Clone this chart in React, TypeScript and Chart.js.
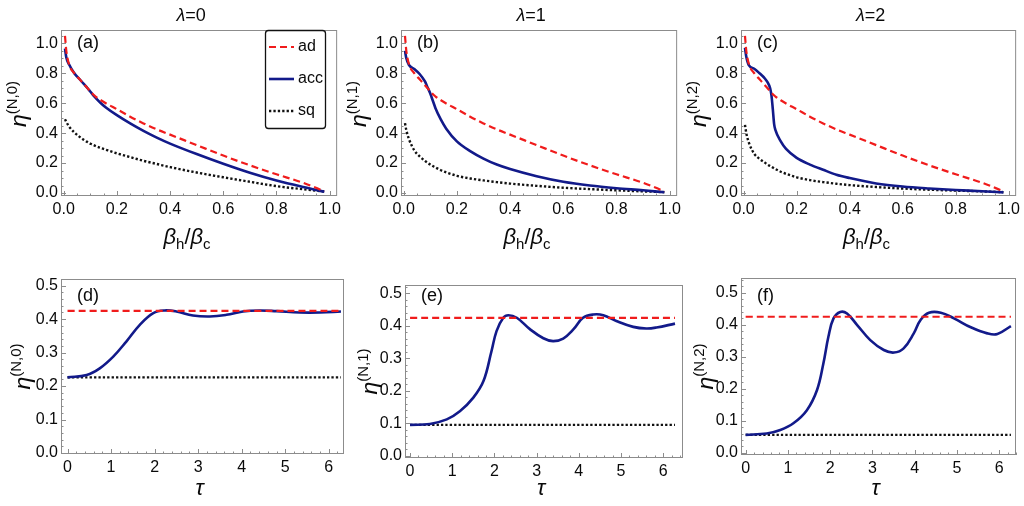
import React, { useEffect, useRef } from "react";
import { Chart, registerables } from "chart.js";

Chart.register(...registerables);

const SANS = "'Liberation Sans', Arial, sans-serif";
Chart.defaults.font.family = SANS;

// ---------- top row: efficiency vs beta_h / beta_c ----------
const betaRatio = [0.005, 0.01, 0.02, 0.04, 0.06, 0.08, 0.09, 0.1, 0.105, 0.11, 0.115, 0.12, 0.14, 0.16, 0.2, 0.25, 0.3, 0.35, 0.4, 0.5, 0.6, 0.7, 0.8, 0.9, 0.98];
const etaAd = [1.05, 0.95, 0.86, 0.8, 0.76, 0.72, 0.7, 0.68, 0.67, 0.66, 0.652, 0.644, 0.62, 0.598, 0.56, 0.51, 0.465, 0.425, 0.39, 0.32, 0.25, 0.185, 0.125, 0.068, 0.012];
const etaAccL0 = [0.965, 0.905, 0.86, 0.8, 0.76, 0.72, 0.7, 0.678, 0.667, 0.656, 0.646, 0.636, 0.6, 0.57, 0.52, 0.465, 0.415, 0.37, 0.33, 0.26, 0.195, 0.135, 0.083, 0.04, 0.009];
const etaSqL0 = [0.493, 0.475, 0.445, 0.405, 0.375, 0.35, 0.34, 0.33, 0.326, 0.322, 0.318, 0.314, 0.3, 0.288, 0.265, 0.24, 0.215, 0.194, 0.173, 0.137, 0.105, 0.075, 0.046, 0.025, 0.01];
const etaAccL1 = [0.95, 0.9, 0.855, 0.828, 0.795, 0.745, 0.705, 0.665, 0.64, 0.615, 0.59, 0.565, 0.49, 0.43, 0.345, 0.28, 0.23, 0.19, 0.16, 0.112, 0.075, 0.05, 0.032, 0.018, 0.005];
const etaSqL1 = [0.467, 0.42, 0.36, 0.285, 0.245, 0.215, 0.202, 0.19, 0.185, 0.18, 0.175, 0.17, 0.152, 0.138, 0.115, 0.097, 0.084, 0.073, 0.063, 0.048, 0.035, 0.026, 0.018, 0.011, 0.006];
const etaAccL2 = [0.97, 0.91, 0.852, 0.83, 0.8, 0.765, 0.74, 0.7, 0.65, 0.56, 0.46, 0.42, 0.345, 0.295, 0.235, 0.19, 0.155, 0.122, 0.1, 0.064, 0.043, 0.03, 0.02, 0.012, 0.004];
const etaSqL2 = [0.455, 0.4, 0.335, 0.262, 0.228, 0.203, 0.19, 0.18, 0.175, 0.17, 0.165, 0.16, 0.142, 0.128, 0.105, 0.086, 0.073, 0.062, 0.053, 0.04, 0.03, 0.022, 0.016, 0.011, 0.006];

// ---------- bottom row: efficiency vs tau ----------
const tauSpan = [0, 6.28];
const etaAdLimit = 0.425;
const etaSqLimitL0 = 0.226;
const etaSqLimitL1 = 0.095;
const etaSqLimitL2 = 0.056;

const tauL0 = [0, 0.44, 0.74, 1.05, 1.35, 1.66, 1.97, 2.23, 2.5, 2.88, 3.27, 3.65, 4.03, 4.41, 4.8, 5.33, 5.8, 6.28];
const etaTauL0 = [0.226, 0.233, 0.253, 0.288, 0.333, 0.383, 0.418, 0.426, 0.423, 0.411, 0.408, 0.413, 0.423, 0.426, 0.424, 0.42, 0.42, 0.423];
const tauL1 = [0, 0.47, 0.87, 1.18, 1.5, 1.74, 1.93, 2.05, 2.21, 2.33, 2.53, 2.84, 3.16, 3.39, 3.63, 3.87, 4.1, 4.34, 4.58, 4.89, 5.29, 5.6, 5.84, 6.28];
const etaTauL1 = [0.095, 0.098, 0.112, 0.137, 0.179, 0.23, 0.322, 0.384, 0.425, 0.433, 0.425, 0.39, 0.362, 0.353, 0.361, 0.389, 0.425, 0.435, 0.433, 0.415, 0.397, 0.392, 0.395, 0.407];
const tauL2 = [0, 0.5, 0.82, 1.13, 1.45, 1.69, 1.84, 1.96, 2.08, 2.24, 2.4, 2.64, 2.95, 3.27, 3.51, 3.74, 3.98, 4.14, 4.34, 4.62, 4.93, 5.33, 5.72, 5.96, 6.28];
const etaTauL2 = [0.056, 0.06, 0.071, 0.092, 0.133, 0.196, 0.279, 0.363, 0.42, 0.44, 0.435, 0.399, 0.352, 0.321, 0.313, 0.326, 0.373, 0.415, 0.4375, 0.4375, 0.42, 0.392, 0.373, 0.371, 0.396];

// ---------- ticks ----------
const betaTicks = [0, 0.2, 0.4, 0.6, 0.8, 1.0];
const etaTopTicks = [0, 0.2, 0.4, 0.6, 0.8, 1.0];
const tauTicks = [0, 1, 2, 3, 4, 5, 6];
const etaBottomTicks = [0, 0.1, 0.2, 0.3, 0.4, 0.5];

const RED = "#f01c1c";
const BLUE = "#121a8a";
const BLACK = "#111111";
const FRAME = "#8c8c8c";
const TEXT = "#0a0a0a";

type Series = { label: string; xs: number[]; ys: number[]; color: string; dash: number[]; width: number };

const ad = (xs: number[], ys: number[]): Series => ({ label: "ad", xs, ys, color: RED, dash: [7, 4], width: 2.2 });
const acc = (xs: number[], ys: number[]): Series => ({ label: "acc", xs, ys, color: BLUE, dash: [], width: 2.6 });
const sq = (xs: number[], ys: number[]): Series => ({ label: "sq", xs, ys, color: BLACK, dash: [2.3, 2.1], width: 2.4 });

interface PanelSpec {
  id: string;
  tag: string;
  lambda?: string;
  sup: string;
  box: [number, number, number, number]; // left, top, right, bottom (page)
  frame: [number, number, number, number]; // left, top, right, bottom (page)
  xRange: [number, number];
  yRange: [number, number];
  xTicks: number[];
  yTicks: number[];
  xMinor: number;
  yMinor: number;
  xDigits: number;
  xTitle: "beta" | "tau";
  yTitleGap: number;
  yTitleShift: number;
  tagY: number;
  smooth: "monotone" | "default";
  legend?: boolean;
  series: Series[];
}

const topCommon = {
  xRange: [-0.01, 1.028] as [number, number],
  yRange: [-0.02, 1.089] as [number, number],
  xTicks: betaTicks,
  yTicks: etaTopTicks,
  xMinor: 0.05,
  yMinor: 0.05,
  xDigits: 1,
  xTitle: "beta" as const,
  yTitleGap: 35,
  yTitleShift: -9,
  tagY: 48,
  smooth: "monotone" as const,
};

const bottomCommon = {
  xTicks: tauTicks,
  yTicks: etaBottomTicks,
  xMinor: 0.2,
  yMinor: 0.02,
  xDigits: 0,
  xTitle: "tau" as const,
  yTitleShift: 0,
  tagY: 301,
  smooth: "default" as const,
};

const panels: PanelSpec[] = [
  {
    ...topCommon, id: "a", tag: "(a)", lambda: "0", sup: "(N,0)", legend: true,
    box: [0, 0, 345, 252], frame: [61, 30, 338, 196],
    series: [ad(betaRatio, etaAd), acc(betaRatio, etaAccL0), sq(betaRatio, etaSqL0)],
  },
  {
    ...topCommon, id: "b", tag: "(b)", lambda: "1", sup: "(N,1)",
    box: [340, 0, 685, 252], frame: [401, 30, 678, 196],
    series: [ad(betaRatio, etaAd), acc(betaRatio, etaAccL1), sq(betaRatio, etaSqL1)],
  },
  {
    ...topCommon, id: "c", tag: "(c)", lambda: "2", sup: "(N,2)",
    box: [680, 0, 1024, 252], frame: [741, 30, 1018, 196],
    series: [ad(betaRatio, etaAd), acc(betaRatio, etaAccL2), sq(betaRatio, etaSqL2)],
  },
  {
    ...bottomCommon, id: "d", tag: "(d)", sup: "(N,0)", yTitleGap: 31,
    box: [0, 253, 350, 506], frame: [61, 279, 344, 454],
    xRange: [-0.15, 6.35], yRange: [-0.003, 0.52],
    series: [
      ad(tauSpan, [etaAdLimit, etaAdLimit]),
      acc(tauL0, etaTauL0),
      sq(tauSpan, [etaSqLimitL0, etaSqLimitL0]),
    ],
  },
  {
    ...bottomCommon, id: "e", tag: "(e)", sup: "(N,1)", yTitleGap: 28,
    box: [344, 253, 690, 506], frame: [405, 285, 683, 458],
    xRange: [-0.12, 6.47], yRange: [-0.007, 0.526],
    series: [
      ad(tauSpan, [etaAdLimit, etaAdLimit]),
      acc(tauL1, etaTauL1),
      sq(tauSpan, [etaSqLimitL1, etaSqLimitL1]),
    ],
  },
  {
    ...bottomCommon, id: "f", tag: "(f)", sup: "(N,2)", yTitleGap: 28,
    box: [680, 253, 1024, 506], frame: [741, 278, 1016, 455],
    xRange: [-0.11, 6.4], yRange: [-0.007, 0.546],
    series: [
      ad(tauSpan, [etaAdLimit, etaAdLimit]),
      acc(tauL2, etaTauL2),
      sq(tauSpan, [etaSqLimitL2, etaSqLimitL2]),
    ],
  },
];

type Piece = { text: string; font: string; dy?: number };

// draws a run of text pieces starting at x (left), baseline y
function drawPieces(ctx: CanvasRenderingContext2D, pieces: Piece[], x: number, y: number, center = false) {
  let total = 0;
  for (const p of pieces) {
    ctx.font = p.font;
    total += ctx.measureText(p.text).width;
  }
  let cx = center ? x - total / 2 : x;
  ctx.textAlign = "left";
  ctx.textBaseline = "alphabetic";
  for (const p of pieces) {
    ctx.font = p.font;
    ctx.fillText(p.text, cx, y + (p.dy ?? 0));
    cx += ctx.measureText(p.text).width;
  }
}

function decorPlugin(spec: PanelSpec) {
  const ox = spec.box[0];
  const oy = spec.box[1];
  return {
    id: "decor" + spec.id,
    afterDraw(chart: Chart) {
      const { ctx, chartArea: a } = chart;
      const sx = chart.scales.x;
      const sy = chart.scales.y;
      ctx.save();

      // frame
      ctx.strokeStyle = FRAME;
      ctx.lineWidth = 1;
      ctx.setLineDash([]);
      ctx.strokeRect(a.left + 0.5, a.top + 0.5, a.right - a.left - 1, a.bottom - a.top - 1);

      // inner ticks on bottom and left
      const tickMarks = (scale: any, step: number, majors: number[], horizontal: boolean) => {
        const [lo, hi] = [scale.min, scale.max];
        const n0 = Math.ceil(lo / step - 1e-6);
        const n1 = Math.floor(hi / step + 1e-6);
        for (let n = n0; n <= n1; n++) {
          const v = n * step;
          const major = majors.some((m) => Math.abs(m - v) < 1e-6);
          const len = major ? 5 : 2.5;
          const p = Math.round(scale.getPixelForValue(v)) + 0.5;
          ctx.beginPath();
          if (horizontal) {
            ctx.moveTo(p, a.bottom);
            ctx.lineTo(p, a.bottom - len);
          } else {
            ctx.moveTo(a.left, p);
            ctx.lineTo(a.left + len, p);
          }
          ctx.stroke();
        }
      };
      tickMarks(sx, spec.xMinor, spec.xTicks, true);
      tickMarks(sy, spec.yMinor, spec.yTicks, false);

      ctx.fillStyle = TEXT;

      // panel tag
      drawPieces(ctx, [{ text: spec.tag, font: `18px ${SANS}` }], spec.frame[0] + 16 - ox, spec.tagY - oy);

      // lambda title
      if (spec.lambda !== undefined) {
        drawPieces(
          ctx,
          [
            { text: "λ", font: `italic 18px ${SANS}` },
            { text: "=" + spec.lambda, font: `18px ${SANS}` },
          ],
          (a.left + a.right) / 2 - 8,
          21 - oy,
          true
        );
      }

      // x title
      const xMid = (a.left + a.right) / 2;
      if (spec.xTitle === "beta") {
        drawPieces(
          ctx,
          [
            { text: "β", font: `italic 22px ${SANS}` },
            { text: "h", font: `15px ${SANS}`, dy: 5 },
            { text: "/", font: `22px ${SANS}` },
            { text: "β", font: `italic 22px ${SANS}` },
            { text: "c", font: `15px ${SANS}`, dy: 5 },
          ],
          xMid - 12,
          244 - oy,
          true
        );
      } else {
        drawPieces(ctx, [{ text: "τ", font: `italic 22px ${SANS}` }], xMid - 3, 495 - oy, true);
      }

      // y title (rotated)
      ctx.save();
      ctx.translate(a.left - spec.yTitleGap, (a.top + a.bottom) / 2 + spec.yTitleShift);
      ctx.rotate(-Math.PI / 2);
      drawPieces(
        ctx,
        [
          { text: "η", font: `italic 23px ${SANS}` },
          { text: spec.sup, font: `15px ${SANS}`, dy: -9 },
        ],
        0,
        0,
        true
      );
      ctx.restore();

      // legend box in panel (a)
      if (spec.legend) {
        const lx = 265 - ox;
        const ly = 30 - oy;
        const lw = 60;
        const lh = 98;
        ctx.fillStyle = "#ffffff";
        ctx.strokeStyle = "#111111";
        ctx.lineWidth = 1.3;
        ctx.beginPath();
        ctx.roundRect(lx + 0.5, ly + 0.5, lw, lh, 3);
        ctx.fill();
        ctx.stroke();
        const rows = [47, 79, 111];
        chart.data.datasets.forEach((ds: any, i: number) => {
          const ry = rows[i] - oy;
          ctx.strokeStyle = ds.borderColor;
          ctx.lineWidth = ds.borderWidth;
          ctx.setLineDash(ds.borderDash || []);
          ctx.beginPath();
          ctx.moveTo(lx + 4, ry);
          ctx.lineTo(lx + 29, ry);
          ctx.stroke();
          ctx.setLineDash([]);
          ctx.fillStyle = TEXT;
          ctx.font = `16px ${SANS}`;
          ctx.textBaseline = "middle";
          ctx.textAlign = "left";
          ctx.fillText(ds.label, lx + 33, ry);
        });
      }

      ctx.restore();
    },
  };
}

const Panel = ({ spec }: { spec: PanelSpec }) => {
  const canvasRef = useRef<HTMLCanvasElement | null>(null);

  useEffect(() => {
    const ctx = canvasRef.current?.getContext("2d");
    if (!ctx) return;
    const [bl, bt, br, bb] = spec.box;
    const [fl, ft, fr, fb] = spec.frame;
    const tickFont = { family: SANS, size: 16 };

    const chart = new Chart(ctx, {
      type: "line",
      data: {
        datasets: spec.series.map((s) => ({
          label: s.label,
          data: s.xs.map((x, i) => ({ x, y: s.ys[i] })),
          borderColor: s.color,
          borderDash: s.dash,
          borderWidth: s.width,
          borderCapStyle: "butt" as const,
          pointRadius: 0,
          fill: false,
          cubicInterpolationMode: spec.smooth,
          tension: 0.4,
        })),
      },
      options: {
        animation: false,
        responsive: true,
        maintainAspectRatio: false,
        events: [],
        layout: { padding: { left: 0, top: ft - bt, right: br - fr, bottom: 0 } },
        plugins: { legend: { display: false }, tooltip: { enabled: false }, title: { display: false } },
        scales: {
          x: {
            type: "linear",
            min: spec.xRange[0],
            max: spec.xRange[1],
            grid: { display: false, drawTicks: false },
            border: { display: false },
            afterBuildTicks: (scale: any) => {
              scale.ticks = spec.xTicks.map((v) => ({ value: v }));
            },
            afterFit: (scale: any) => {
              scale.height = bb - fb;
            },
            ticks: {
              padding: 4,
              color: TEXT,
              font: tickFont,
              maxRotation: 0,
              autoSkip: false,
              callback: (v: any) => Number(v).toFixed(spec.xDigits),
            },
          },
          y: {
            type: "linear",
            min: spec.yRange[0],
            max: spec.yRange[1],
            grid: { display: false, drawTicks: false },
            border: { display: false },
            afterBuildTicks: (scale: any) => {
              scale.ticks = spec.yTicks.map((v) => ({ value: v }));
            },
            afterFit: (scale: any) => {
              scale.width = fl - bl;
            },
            ticks: {
              padding: 3,
              color: TEXT,
              font: tickFont,
              autoSkip: false,
              callback: (v: any) => Number(v).toFixed(1),
            },
          },
        },
      },
      plugins: [decorPlugin(spec)],
    });

    return () => {
      chart.destroy();
    };
  }, [spec]);

  const [bl, bt, br, bb] = spec.box;
  return (
    <div style={{ position: "absolute", left: bl, top: bt, width: br - bl, height: bb - bt }}>
      <canvas ref={canvasRef} />
    </div>
  );
};

export default function App() {
  return (
    <div style={{ position: "absolute", left: 0, top: 0, width: 1024, height: 506, background: "#ffffff", overflow: "hidden" }}>
      {panels.map((p) => (
        <Panel key={p.id} spec={p} />
      ))}
    </div>
  );
}
